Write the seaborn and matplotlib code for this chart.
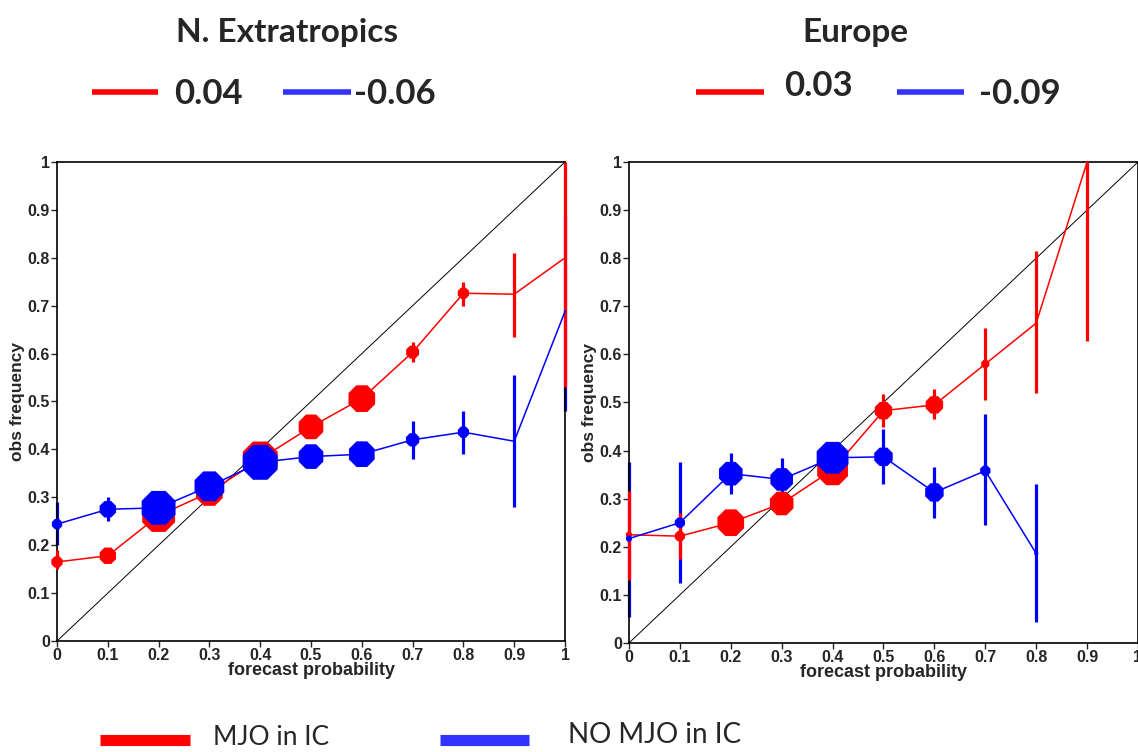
import numpy as np
import pandas as pd
import matplotlib
matplotlib.use("Agg")
import matplotlib.pyplot as plt
import seaborn as sns

# forecast probability bins
prob = [0, 0.1, 0.2, 0.3, 0.4, 0.5, 0.6, 0.7, 0.8, 0.9, 1.0]

# N. Extratropics
nh_mjo = [0.165, 0.178, 0.262, 0.31, 0.38, 0.447, 0.506, 0.603, 0.726, 0.724, 0.80]
nh_mjo_lo = [0.15, 0.165, 0.25, 0.30, 0.37, 0.44, 0.50, 0.583, 0.70, 0.635, 0.53]
nh_mjo_hi = [0.19, 0.19, 0.275, 0.32, 0.39, 0.455, 0.512, 0.625, 0.75, 0.81, 1.0]
nh_mjo_n = [11, 16, 32, 26, 34, 24, 26, 12.6, 11, 2, 2]

nh_nomjo = [0.244, 0.275, 0.278, 0.323, 0.373, 0.385, 0.39, 0.42, 0.436, 0.417, 0.688]
nh_nomjo_lo = [0.20, 0.25, 0.27, 0.315, 0.365, 0.375, 0.38, 0.38, 0.39, 0.28, 0.48]
nh_nomjo_hi = [0.29, 0.30, 0.285, 0.33, 0.38, 0.395, 0.40, 0.46, 0.48, 0.555, 0.89]
nh_nomjo_n = [10, 16, 33, 29, 34, 24, 25, 13, 11, 2, 2]

# Europe
eu_prob_mjo = prob[:10]
eu_mjo = [0.225, 0.222, 0.25, 0.29, 0.36, 0.483, 0.495, 0.58, 0.665, 1.0]
eu_mjo_lo = [0.13, 0.175, 0.235, 0.275, 0.345, 0.45, 0.465, 0.505, 0.52, 0.627]
eu_mjo_hi = [0.315, 0.27, 0.265, 0.305, 0.375, 0.518, 0.527, 0.655, 0.815, 1.0]
eu_mjo_n = [6, 10, 26, 23, 30, 17, 17, 8, 3, 2]

eu_prob_nomjo = prob[:9]
eu_nomjo = [0.217, 0.25, 0.352, 0.34, 0.385, 0.387, 0.313, 0.358, 0.186]
eu_nomjo_lo = [0.055, 0.125, 0.31, 0.30, 0.36, 0.33, 0.26, 0.245, 0.043]
eu_nomjo_hi = [0.377, 0.377, 0.395, 0.385, 0.415, 0.445, 0.365, 0.475, 0.33]
eu_nomjo_n = [6, 10, 23, 22, 31, 18, 18, 10, 4]

titles = ["N. Extratropics", "Europe"]
bss_mjo = ["0.04", "0.03"]
bss_nomjo = ["-0.06", "-0.09"]

RED = "#ff0000"
BLUE = "#0000ff"
LEG_BLUE = "#3333ff"

sns.set_style("ticks")
plt.rcParams['font.family'] = ['Liberation Sans', 'DejaVu Sans']

fig = plt.figure(figsize=(11.38, 7.52), dpi=100)
ax1 = fig.add_axes([0.0501, 0.1476, 0.4464, 0.637])
ax2 = fig.add_axes([0.5527, 0.1450, 0.4473, 0.6396])


def marker_df(x, y, n):
    # marker area grows with the bin population
    return pd.DataFrame({"x": x, "y": y, "area": (np.array(n) * 0.8) ** 2})


def draw_markers(ax, df, color, z):
    a = df["area"]
    sns.scatterplot(data=df, x="x", y="y", size="area", sizes=(a.min(), a.max()),
                    size_norm=(a.min(), a.max()), marker="8", color=color,
                    edgecolor="none", linewidth=0, legend=False, ax=ax,
                    zorder=z, clip_on=False)


panels = [
    (ax1, prob, nh_mjo, nh_mjo_lo, nh_mjo_hi, nh_mjo_n,
     prob, nh_nomjo, nh_nomjo_lo, nh_nomjo_hi, nh_nomjo_n),
    (ax2, eu_prob_mjo, eu_mjo, eu_mjo_lo, eu_mjo_hi, eu_mjo_n,
     eu_prob_nomjo, eu_nomjo, eu_nomjo_lo, eu_nomjo_hi, eu_nomjo_n),
]

for ax, xm, ym, lom, him, nm, xn, yn, lon, hin, nn in panels:
    ax.plot([0, 1], [0, 1], color="black", lw=0.7, zorder=1)
    dfm = marker_df(xm, ym, nm)
    dfn = marker_df(xn, yn, nn)
    # blue error bars under red, blue markers over red
    ax.vlines(xn, lon, hin, color=BLUE, lw=2.3, zorder=2, clip_on=False)
    sns.lineplot(data=dfm, x="x", y="y", ax=ax, color=RED, lw=1.1, sort=False, zorder=3)
    ax.vlines(xm, lom, him, color=RED, lw=2.3, zorder=4, clip_on=False)
    draw_markers(ax, dfm, RED, 5)
    sns.lineplot(data=dfn, x="x", y="y", ax=ax, color=BLUE, lw=1.1, sort=False, zorder=6)
    draw_markers(ax, dfn, BLUE, 7)

    ax.set_xlim(0, 1)
    ax.set_ylim(0, 1)
    ticks = np.round(np.arange(0, 1.01, 0.1), 1)
    labels = ["0"] + [f"{t:.1f}" for t in ticks[1:-1]] + ["1"]
    ax.set_xticks(ticks)
    ax.set_xticklabels(labels)
    ax.set_yticks(ticks)
    ax.set_yticklabels(labels)
    ax.tick_params(direction="out", length=4, width=1, labelsize=11.5, pad=1)
    for lab in ax.get_xticklabels() + ax.get_yticklabels():
        lab.set_fontweight("bold")
    for sp in ax.spines.values():
        sp.set_visible(True)
        sp.set_linewidth(1.2)
        sp.set_color("black")
    ax.set_xlabel("forecast probability", fontsize=13, fontweight="bold", labelpad=-1)
    ax.set_ylabel("obs frequency", fontsize=12.5, fontweight="bold", labelpad=2)

# titles and reliability legends above each panel
title_font = ['Lato', 'DejaVu Sans']
fig.text(0.252, 0.957, titles[0], ha="center", va="center", fontsize=24,
         fontweight="bold", family=title_font)
fig.text(0.752, 0.957, titles[1], ha="center", va="center", fontsize=24,
         fontweight="bold", family=title_font)

fig.add_artist(plt.Line2D([0.081, 0.139], [0.877, 0.877], color=RED, lw=4,
                          solid_capstyle="butt"))
fig.text(0.153, 0.875, bss_mjo[0], ha="left", va="center", fontsize=25,
         fontweight="bold", family=title_font)
fig.add_artist(plt.Line2D([0.249, 0.308], [0.877, 0.877], color=LEG_BLUE, lw=4,
                          solid_capstyle="butt"))
fig.text(0.311, 0.875, bss_nomjo[0], ha="left", va="center", fontsize=25,
         fontweight="bold", family=title_font)

fig.add_artist(plt.Line2D([0.612, 0.671], [0.877, 0.877], color=RED, lw=4,
                          solid_capstyle="butt"))
fig.text(0.689, 0.886, bss_mjo[1], ha="left", va="center", fontsize=25,
         fontweight="bold", family=title_font)
fig.add_artist(plt.Line2D([0.788, 0.847], [0.877, 0.877], color=LEG_BLUE, lw=4,
                          solid_capstyle="butt"))
fig.text(0.860, 0.875, bss_nomjo[1], ha="left", va="center", fontsize=25,
         fontweight="bold", family=title_font)

# bottom legend
fig.add_artist(plt.Line2D([0.088, 0.167], [0.016, 0.016], color=RED, lw=8,
                          solid_capstyle="butt"))
fig.text(0.187, 0.019, "MJO in IC", ha="left", va="center", fontsize=19,
         family=title_font)
fig.add_artist(plt.Line2D([0.387, 0.465], [0.016, 0.016], color=LEG_BLUE, lw=8,
                          solid_capstyle="butt"))
fig.text(0.499, 0.022, "NO MJO in IC", ha="left", va="center", fontsize=20,
         family=title_font)

fig.savefig("out.png", dpi=100)
